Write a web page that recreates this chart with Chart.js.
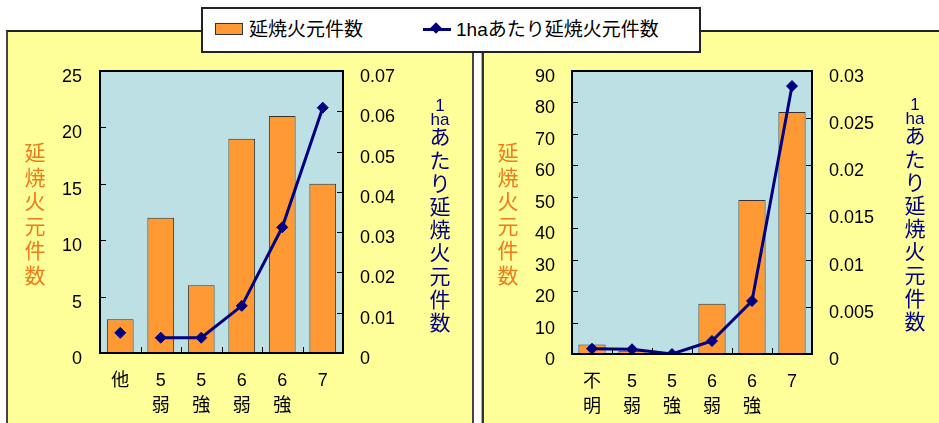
<!DOCTYPE html>
<html lang="ja">
<head>
<meta charset="utf-8">
<script src="https://cdn.jsdelivr.net/npm/chart.js@4/dist/chart.umd.min.js"></script>
<style>
  html, body { margin: 0; padding: 0; background: #ffffff; overflow: hidden; }
  body { width: 939px; height: 423px; position: relative; font-family: "Liberation Sans", "Noto Sans CJK JP", sans-serif; }
  .panel { position: absolute; background: #FFFF99; box-sizing: border-box; }
  #panelL { left: 6px; top: 30px; width: 468px; height: 400px; border-left: 2px solid #444; border-top: 2px solid #222; border-right: 2px solid #444; }
  #panelR { left: 482px; top: 30px; width: 470px; height: 400px; border-left: 2px solid #333; border-top: 2px solid #222; }
  #gapLine { position: absolute; left: 481px; top: 52px; width: 1px; height: 380px; background: #aaa; }
  canvas { position: absolute; display: block; }
  #chartL { left: 7px; top: 31px; }
  #chartR { left: 483px; top: 31px; }
  #legend { position: absolute; left: 201px; top: 7px; width: 500px; height: 46px; box-sizing: border-box; border: 2px solid #222; background: #fff; font-size: 19px; color: #000; }
  #legend .swatch { position: absolute; left: 12px; top: 14px; width: 28px; height: 12px; background: #FF9933; border: 1px solid #333; box-sizing: border-box; }
  #legend .txt { position: absolute; top: 8px; line-height: 26px; white-space: nowrap; }
  #legend .lineIcon { position: absolute; left: 220px; top: 19px; width: 28px; height: 3px; background: #000080; }
  #legend .diamond { position: absolute; left: 229px; top: 15px; width: 8px; height: 8px; background: #000080; transform: rotate(45deg); }
</style>
</head>
<body>
<div class="panel" id="panelL"></div>
<div id="gapLine"></div>
<div class="panel" id="panelR"></div>
<canvas id="chartL" width="465" height="392"></canvas>
<canvas id="chartR" width="456" height="392"></canvas>
<div id="legend">
  <div class="swatch"></div>
  <div class="txt" style="left:46px">延焼火元件数</div>
  <div class="lineIcon"></div>
  <div class="diamond"></div>
  <div class="txt" style="left:253px">1haあたり延焼火元件数</div>
</div>
<script>
// Seismic intensity classes (multi-line labels) and counts per class
const leftCategories  = ['他', ['5', '弱'], ['5', '強'], ['6', '弱'], ['6', '強'], '7'];
const leftFires       = [3, 12, 6, 19, 21, 15];
const leftFiresPerHa  = [0.005, 0.0038, 0.0038, 0.0117, 0.0312, 0.0609];
const leftCountTicks  = [0, 5, 10, 15, 20, 25];
const leftRateTicks   = [0, 0.01, 0.02, 0.03, 0.04, 0.05, 0.06, 0.07];

const rightCategories = [['不', '明'], ['5', '弱'], ['5', '強'], ['6', '弱'], ['6', '強'], '7'];
const rightFires      = [3, 1, 0, 16, 49, 77];
const rightFiresPerHa = [0.00056, 0.0005, 0, 0.00138, 0.00562, 0.0284];
const rightCountTicks = [0, 10, 20, 30, 40, 50, 60, 70, 80, 90];
const rightRateTicks  = [0, 0.005, 0.01, 0.015, 0.02, 0.025, 0.03];

const countTitle = '延焼火元件数';
const rateTitleHead = ['1', 'ha'];
const rateTitleBody = 'あたり延焼火元件数';

const ORANGE = '#FF9933';
const NAVY = '#000080';
const TITLE_ORANGE = '#F07A1A';
const PLOT_BG = '#BCE0E3';
const FONT = '"Liberation Sans", "Noto Sans CJK JP", sans-serif';
const CJK = '"Noto Sans CJK JP", sans-serif';

// Plot background, frame, inward tick marks and stacked axis titles
const decorPlugin = {
  id: 'decor',
  beforeDraw(chart) {
    const a = chart.chartArea, ctx = chart.ctx;
    ctx.save();
    ctx.fillStyle = PLOT_BG;
    ctx.fillRect(a.left, a.top, a.right - a.left, a.bottom - a.top);
    ctx.restore();
  },
  afterDraw(chart) {
    const a = chart.chartArea, ctx = chart.ctx;
    const o = chart.options.plugins.decor;
    ctx.save();
    ctx.strokeStyle = '#000';
    ctx.lineWidth = 1;
    const len = 6;
    const yL = chart.scales.y, yR = chart.scales.y1, x = chart.scales.x;
    yL.ticks.forEach(t => {
      const p = Math.round(yL.getPixelForValue(t.value)) + 0.5;
      ctx.beginPath(); ctx.moveTo(a.left, p); ctx.lineTo(a.left + len, p); ctx.stroke();
    });
    yR.ticks.forEach(t => {
      const p = Math.round(yR.getPixelForValue(t.value)) + 0.5;
      ctx.beginPath(); ctx.moveTo(a.right - len, p); ctx.lineTo(a.right, p); ctx.stroke();
    });
    const n = chart.data.labels.length;
    for (let i = 1; i < n; i++) {
      const p = Math.round((x.getPixelForValue(i - 1) + x.getPixelForValue(i)) / 2) + 0.5;
      ctx.beginPath(); ctx.moveTo(p, a.bottom - len); ctx.lineTo(p, a.bottom); ctx.stroke();
    }
    // frame
    ctx.lineWidth = 2;
    ctx.strokeRect(a.left, a.top, a.right - a.left, a.bottom - a.top);

    // left title, stacked characters
    ctx.textAlign = 'center';
    ctx.textBaseline = 'top';
    ctx.fillStyle = TITLE_ORANGE;
    ctx.font = '21px ' + CJK;
    Array.from(countTitle).forEach((ch, i) => ctx.fillText(ch, o.leftTitleX, o.leftTitleY + i * 24.5));

    // right title: "1" / "ha" then stacked characters
    ctx.fillStyle = NAVY;
    ctx.textBaseline = 'alphabetic';
    ctx.font = '17px ' + FONT;
    ctx.fillText(rateTitleHead[0], o.rightTitleX, o.rightTitleY);
    ctx.fillText(rateTitleHead[1], o.rightTitleX, o.rightTitleY + 14);
    ctx.textBaseline = 'top';
    ctx.font = '21px ' + CJK;
    Array.from(rateTitleBody).forEach((ch, i) => ctx.fillText(ch, o.rightTitleX, o.rightTitleY + 15 + i * 23.2));
    ctx.restore();
  }
};

function fmtRate(v) { return v === 0 ? '0' : String(parseFloat(v.toFixed(4))); }

function makeChart(id, cats, fires, rates, countTicks, rateTicks, geo) {
  const tickFont = { family: FONT, size: 18 };
  return new Chart(document.getElementById(id), {
    data: {
      labels: cats,
      datasets: [
        {
          type: 'line',
          label: '1haあたり延焼火元件数',
          data: rates,
          yAxisID: 'y1',
          order: 0,
          borderColor: NAVY,
          backgroundColor: NAVY,
          borderWidth: 3,
          tension: 0,
          pointStyle: 'rectRot',
          pointRadius: 5.5,
          pointBorderWidth: 1,
          pointBackgroundColor: NAVY,
          pointBorderColor: NAVY,
          segment: geo.skipFirstSegment
            ? { borderColor: c => (c.p0DataIndex === 0 ? 'rgba(0,0,0,0)' : NAVY) }
            : {}
        },
        {
          type: 'bar',
          label: '延焼火元件数',
          data: fires,
          yAxisID: 'y',
          order: 1,
          backgroundColor: ORANGE,
          borderColor: '#333',
          borderWidth: 1,
          barPercentage: geo.barPct,
          categoryPercentage: 1
        }
      ]
    },
    options: {
      responsive: false,
      animation: false,
      devicePixelRatio: 1,
      layout: { padding: { top: geo.top, left: 0, right: 0, bottom: 0 } },
      plugins: {
        legend: { display: false },
        tooltip: { enabled: false },
        decor: geo.titles
      },
      scales: {
        x: {
          grid: { display: false, drawTicks: false },
          border: { display: false },
          ticks: { color: '#000', font: { family: FONT, size: 18, lineHeight: 1.38 }, padding: 16, maxRotation: 0, autoSkip: false },
          afterFit: s => { s.height = geo.xHeight; }
        },
        y: {
          position: 'left',
          min: countTicks[0],
          max: countTicks[countTicks.length - 1],
          grid: { display: false, drawTicks: false },
          border: { display: false },
          ticks: { color: '#000', font: tickFont, padding: geo.leftPad, labelOffset: 6 },
          afterBuildTicks: s => { s.ticks = countTicks.map(v => ({ value: v })); },
          afterFit: s => { s.width = geo.leftW; }
        },
        y1: {
          position: 'right',
          min: rateTicks[0],
          max: rateTicks[rateTicks.length - 1],
          grid: { display: false, drawTicks: false },
          border: { display: false },
          ticks: { color: '#000', font: tickFont, padding: geo.rightPad, labelOffset: 6, callback: v => fmtRate(v) },
          afterBuildTicks: s => { s.ticks = rateTicks.map(v => ({ value: v })); },
          afterFit: s => { s.width = geo.rightW; }
        }
      }
    },
    plugins: [decorPlugin]
  });
}

makeChart('chartL', leftCategories, leftFires, leftFiresPerHa, leftCountTicks, leftRateTicks, {
  top: 40, xHeight: 70, leftW: 93, rightW: 129, leftPad: 18, rightPad: 17, barPct: 0.66,
  skipFirstSegment: true,
  titles: { leftTitleX: 28, leftTitleY: 111, rightTitleX: 433, rightTitleY: 80 }
});

makeChart('chartR', rightCategories, rightFires, rightFiresPerHa, rightCountTicks, rightRateTicks, {
  top: 40, xHeight: 69, leftW: 89, rightW: 127, leftPad: 17, rightPad: 17, barPct: 0.68,
  skipFirstSegment: false,
  titles: { leftTitleX: 25, leftTitleY: 111, rightTitleX: 432, rightTitleY: 79 }
});
</script>
</body>
</html>
